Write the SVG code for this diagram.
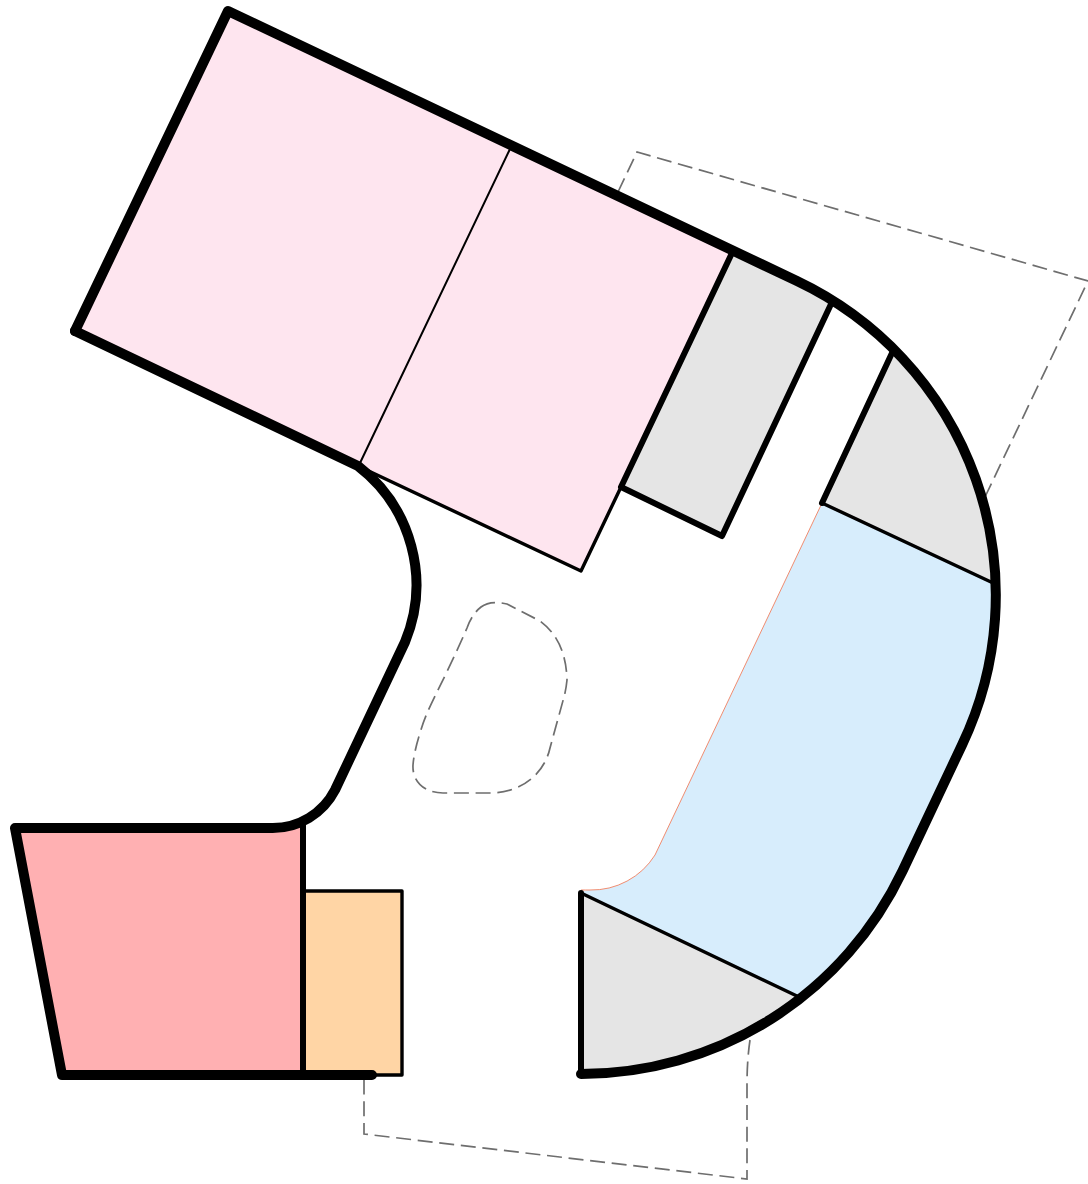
<svg xmlns="http://www.w3.org/2000/svg" width="1088" height="1184" viewBox="0 0 1088 1184">
<style>
.w{fill:none;stroke:#000;stroke-linecap:round;stroke-linejoin:round}
.o{stroke-width:10}.m{stroke-width:6}.t{stroke-width:3.400}.h{stroke-width:2}
.d{fill:none;stroke:#6e6e6e;stroke-width:1.700;stroke-dasharray:15 6.700}
</style>
<rect width="1088" height="1184" fill="#fff"/>
<path class="d" d="M618 192L637 152L1088 281L985 497"/>
<path class="d" d="M750 1040Q747 1060 747 1085V1179L364 1134V1078"/>
<path class="d" d="M481 607Q490 600 507 604L540 621Q566 640 567 680Q566 690 564 697L550 748C544 775 520 793 490 793H443C425 793 412 782 413 765Q414 752 420 733C428 705 440 690 467 628Q472 614 481 607Z"/>
<path fill="#fee5ef" d="M228 11L732 251L621 487L581 571L358 466L75 331Z"/>
<path fill="#e5e5e5" d="M732 253L797 281Q815 289 832 302L722 536L621 487Z"/>
<path fill="#e5e5e5" d="M892 353A348 348 0 0 1 991 582L822 503Z"/>
<path fill="#d7edfc" d="M822 503L991 582Q995 590 995 600A348 348 0 0 1 962 745L902.500 871A356 356 0 0 1 799 997L581 893Q585 890 590 890A75 75 0 0 0 655 855Z"/>
<path fill="none" stroke="#f08060" stroke-width="0.900" d="M581 890Q585 890 590 890A75 75 0 0 0 655 855L822 503"/>
<path fill="#e5e5e5" d="M581 893L799 997A356 356 0 0 1 581 1074Z"/>
<path fill="#ffb0b2" d="M15 828H272Q288 828 303 821V1075H62Z"/>
<path fill="#ffd5a5" d="M303 891H402V1075H303Z"/>
<g id="walls">
<path class="w h" d="M510 149L360 463"/>
<path class="w t" d="M358 466L581 571L621 487"/>
<path class="w m" d="M732 253L621 487L722 536L832 302"/>
<path class="w m" d="M892 353L822 503"/>
<path class="w t" d="M822 503L991 582"/>
<path class="w t" d="M581 893L799 997"/>
<path class="w t" d="M303 891H402V1075H303"/>
<path class="w m" d="M303 822V1075"/>
<path class="w m" d="M581 893V1074"/>
<path class="w o" d="M75 331L358 466A150 150 0 0 1 405 642L335 790A70 70 0 0 1 272 828H15L62 1075H372"/>
<path class="w o" d="M75 331L228 11L797 281A348 348 0 0 1 962 745L902.500 871A356 356 0 0 1 581 1074"/>
</g>
</svg>
